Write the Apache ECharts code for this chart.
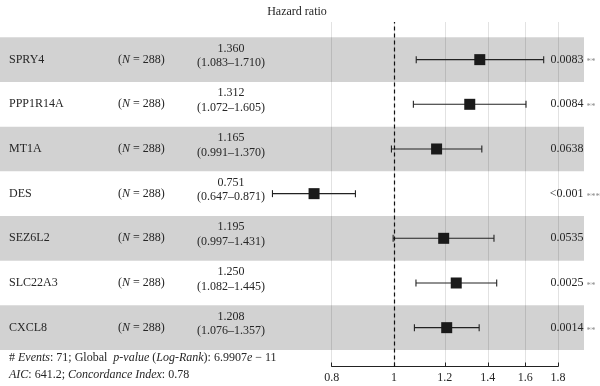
<!DOCTYPE html>
<html>
<head>
<meta charset="utf-8">
<script src="https://cdn.jsdelivr.net/npm/echarts@6/dist/echarts.min.js"></script>
<style>html,body{margin:0;padding:0;background:#fff}#c{width:600px;height:386px}</style>
</head>
<body>
<div id="c"></div>
<script>
const genes = ['SPRY4', 'PPP1R14A', 'MT1A', 'DES', 'SEZ6L2', 'SLC22A3', 'CXCL8'];
const nCounts = [288, 288, 288, 288, 288, 288, 288];
const hr = [1.360, 1.312, 1.165, 0.751, 1.195, 1.250, 1.208];
const lower = [1.083, 1.072, 0.991, 0.647, 0.997, 1.082, 1.076];
const upper = [1.710, 1.605, 1.370, 0.871, 1.431, 1.445, 1.357];
const pValues = ['0.0083', '0.0084', '0.0638', '<0.001', '0.0535', '0.0025', '0.0014'];
const stars = ['**', '**', '', '***', '', '**', '**'];
const tickValues = [0.8, 1, 1.2, 1.4, 1.6, 1.8];
const events = 71;
const globalP = '6.9907';
const globalPExp = '11';
const aic = '641.2';
const cIndex = '0.78';

const FONT = "'Liberation Serif', 'DejaVu Serif', serif";
const TXT = '#262626';

// axis geometry (pixels)
const axLeft = 331.7, axRight = 558, plotLeft = 0, plotRight = 584;
const k = (axRight - axLeft) / Math.log(tickValues[tickValues.length - 1] / tickValues[0]);
const fullMin = tickValues[0] * Math.exp((plotLeft - axLeft) / k);
const fullMax = tickValues[0] * Math.exp((plotRight - axLeft) / k);

const data = genes.map((g, i) => [hr[i], lower[i], upper[i], i]);

const rich = {
  i: { fontFamily: FONT, fontSize: 12, fontStyle: 'italic', fill: TXT, color: TXT }
};

function renderItem(params, api) {
  const i = api.value(3);
  const c = api.coord([api.value(0), i]);
  const lo = api.coord([api.value(1), i]);
  const hi = api.coord([api.value(2), i]);
  const bandH = api.size([0, 1])[1];
  const yc = c[1];
  const cs = params.coordSys;
  const children = [];
  if (i % 2 === 0) {
    children.push({
      type: 'rect',
      shape: { x: cs.x, y: yc - bandH / 2, width: cs.width, height: bandH },
      style: { fill: 'rgba(0,0,0,0.175)' },
      z2: 0
    });
  }
  const lineStyle = { stroke: '#222', lineWidth: 1.1 };
  children.push({ type: 'line', shape: { x1: lo[0], y1: yc, x2: hi[0], y2: yc }, style: lineStyle, z2: 5 });
  children.push({ type: 'line', shape: { x1: lo[0], y1: yc - 3.5, x2: lo[0], y2: yc + 3.5 }, style: lineStyle, z2: 5 });
  children.push({ type: 'line', shape: { x1: hi[0], y1: yc - 3.5, x2: hi[0], y2: yc + 3.5 }, style: lineStyle, z2: 5 });
  const sq = 11;
  children.push({ type: 'rect', shape: { x: c[0] - sq / 2, y: yc - sq / 2, width: sq, height: sq }, style: { fill: '#1a1a1a' }, z2: 6 });

  const base = { fontFamily: FONT, fontSize: 12, fill: TXT };
  children.push({ type: 'text', z2: 7, style: Object.assign({}, base, { text: genes[i], x: 9, y: yc, align: 'left', verticalAlign: 'middle' }) });
  children.push({ type: 'text', z2: 7, style: Object.assign({}, base, { text: '({i|N} = ' + nCounts[i] + ')', rich: rich, x: 118, y: yc, align: 'left', verticalAlign: 'middle' }) });
  children.push({ type: 'text', z2: 7, style: Object.assign({}, base, { text: hr[i].toFixed(3), x: 231, y: yc - 11, align: 'center', verticalAlign: 'middle' }) });
  children.push({ type: 'text', z2: 7, style: Object.assign({}, base, { text: '(' + lower[i].toFixed(3) + '\u2013' + upper[i].toFixed(3) + ')', x: 231, y: yc + 3.5, align: 'center', verticalAlign: 'middle' }) });
  children.push({ type: 'text', z2: 7, style: Object.assign({}, base, { text: pValues[i], x: 583.5, y: yc, align: 'right', verticalAlign: 'middle' }) });
  if (stars[i]) {
    children.push({ type: 'text', z2: 7, style: { text: stars[i], fontFamily: FONT, fontSize: 9, fill: '#8c8c8c', x: 586.5, y: yc + 2.5, align: 'left', verticalAlign: 'middle' } });
  }
  return { type: 'group', children: children };
}

const chart = echarts.init(document.getElementById('c'), null, { renderer: 'canvas' });
chart.setOption({
  animation: false,
  backgroundColor: '#fff',
  textStyle: { fontFamily: FONT },
  title: {
    text: 'Hazard ratio',
    left: 292, top: 1, textAlign: 'center',
    textStyle: { fontFamily: FONT, fontSize: 12, fontWeight: 'normal', color: TXT }
  },
  grid: [
    { left: plotLeft, right: 600 - plotRight, top: 37.3, bottom: 36 },
    { left: axLeft, right: 600 - axRight, top: 22, bottom: 19.5 }
  ],
  xAxis: [
    { type: 'log', gridIndex: 0, min: fullMin, max: fullMax, show: false },
    {
      type: 'log', gridIndex: 1, min: tickValues[0], max: tickValues[tickValues.length - 1],
      axisLine: { show: true, lineStyle: { color: '#222', width: 1.1 } },
      axisTick: { show: true, inside: true, length: 4, customValues: tickValues, lineStyle: { color: '#222' } },
      axisLabel: {
        show: true, customValues: tickValues, margin: 5,
        fontFamily: FONT, fontSize: 12, color: TXT,
        formatter: v => String(+(+v).toFixed(2))
      },
      splitLine: { show: true, lineStyle: { color: '#e2e2e2', width: 1 } },
      minorTick: { show: false }, minorSplitLine: { show: false }
    }
  ],
  yAxis: [
    { type: 'category', gridIndex: 0, data: genes, inverse: true, show: false },
    { type: 'value', gridIndex: 1, min: 0, max: 1, show: false }
  ],
  series: [
    {
      type: 'custom', xAxisIndex: 0, yAxisIndex: 0, clip: false,
      renderItem: renderItem, encode: { x: [0, 1, 2], y: 3 }, data: data, z: 3
    },
    {
      type: 'line', xAxisIndex: 1, yAxisIndex: 1, data: [], silent: true, z: 10,
      markLine: {
        silent: true, symbol: 'none', label: { show: false },
        lineStyle: { color: '#111', type: [4, 3], width: 1.2 },
        data: [{ xAxis: 1 }]
      }
    }
  ],
  graphic: [
    {
      type: 'text', left: 9, top: 352,
      style: {
        text: '# {i|Events}: ' + events + '; Global  {i|p-value} ({i|Log-Rank}): ' + globalP + '{i|e} \u2212 ' + globalPExp,
        rich: rich, fontFamily: FONT, fontSize: 12, fill: TXT
      }
    },
    {
      type: 'text', left: 9, top: 369,
      style: {
        text: '{i|AIC}: ' + aic + '; {i|Concordance Index}: ' + cIndex,
        rich: rich, fontFamily: FONT, fontSize: 12, fill: TXT
      }
    }
  ]
});
</script>
</body>
</html>
